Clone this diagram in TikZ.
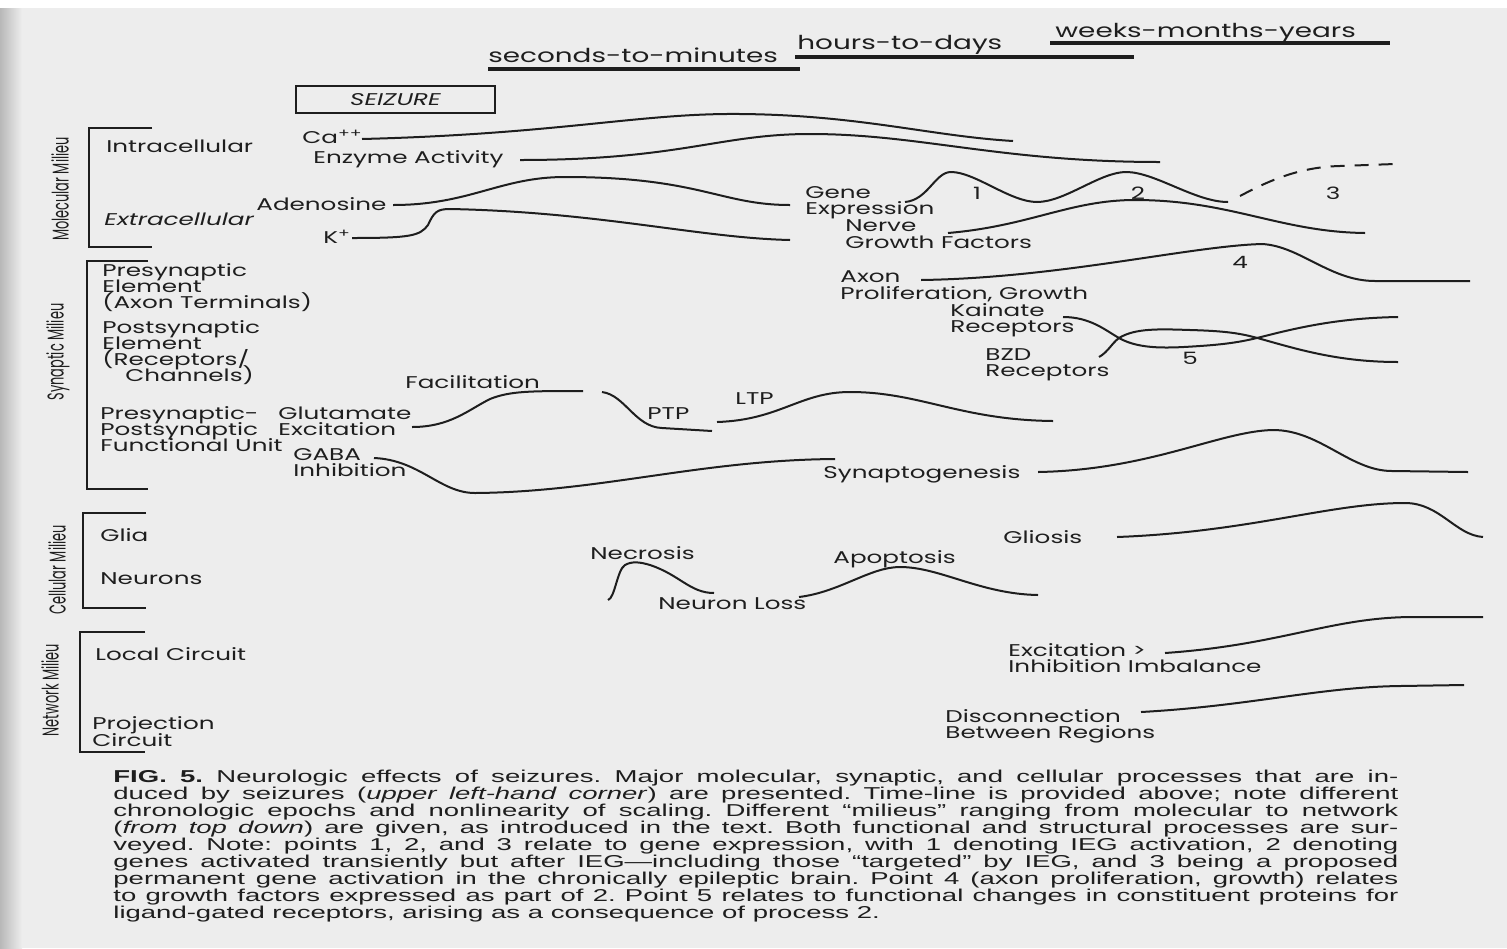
\documentclass[tikz,border=0pt]{standalone}
\usepackage{fontspec}
\usepackage{graphicx}
\newfontfamily\figfont[FakeStretch=1.45]{Poppins}
\newfontfamily\sidefont[FakeStretch=0.85]{Poppins}
\newfontfamily\capfont[FakeStretch=1.6]{Liberation Sans}
\definecolor{ink}{HTML}{1E1E1E}
\definecolor{paper}{HTML}{EDEDED}
\definecolor{edge}{HTML}{B8B8B8}
\begin{document}
\begin{tikzpicture}[x=0.5pt,y=-0.5pt,
  lbl/.style={font=\figfont\fontsize{8.5}{8}\selectfont, text=ink, inner sep=0pt, anchor=base west},
  num/.style={font=\figfont\fontsize{8.5}{8}\selectfont, text=ink, inner sep=0pt, anchor=center},
  tline/.style={font=\figfont\fontsize{9.6}{10}\selectfont, text=ink, inner sep=0pt, anchor=base west},
  side/.style={font=\sidefont\fontsize{7.6}{8}\selectfont, text=ink, inner sep=0pt, rotate=90, anchor=center},
  capline/.style={font=\capfont\fontsize{8.6}{8.5}\selectfont\frenchspacing, text=ink, inner sep=0pt, anchor=base west},
  curve/.style={draw=ink, line width=1pt},
  bracket/.style={draw=ink, line width=1pt},
  rule/.style={draw=ink, line width=1.6pt}]

% page
\fill[paper] (0,0) rectangle (1507,948);
\shade[left color=edge, right color=paper] (0,8) rectangle (22,948);
\fill[white] (0,0) rectangle (1507,8);
\useasboundingbox (0,0) rectangle (1507,948);

% ---------- time line ----------
\node[tline] (tsec) at (488,62) {seconds-to-minutes};
\draw[rule] (488,69) -- (800,69);
\node[tline] (thrs) at (797,49) {hours-to-days};
\draw[rule] (795,57) -- (1134,57);
\node[tline] (twks) at (1055,37) {weeks-months-years};
\draw[rule] (1050,43) -- (1390,43);

% ---------- seizure box ----------
\node[draw=ink, line width=1.3pt, minimum width=99.5pt, minimum height=13.5pt, inner sep=0pt,
      font=\figfont\itshape\fontsize{8.5}{8}\selectfont, text=ink] (seizure) at (395.5,99.5) {SEIZURE};

% ---------- milieu brackets ----------
\draw[bracket] (152,128) -- (89,128) -- (89,247) -- (152,247);
\draw[bracket] (148,261) -- (87,261) -- (87,489) -- (148,489);
\draw[bracket] (146,513) -- (83,513) -- (83,608) -- (146,608);
\draw[bracket] (145,632) -- (80,632) -- (80,752) -- (145,752);
\node[side] (molmil) at (60,189) {\scalebox{1}[1.5]{Molecular Milieu}};
\node[side] (synmil) at (58,352) {\scalebox{1}[1.5]{Synaptic Milieu}};
\node[side] (celmil) at (57,570) {\scalebox{1}[1.5]{Cellular Milieu}};
\node[side] (netmil) at (50,690) {\scalebox{1}[1.5]{Network Milieu}};

% ---------- molecular milieu ----------
\node[lbl] (intra) at (106,152) {Intracellular};
\node[lbl, font=\figfont\itshape\fontsize{8.5}{8}\selectfont] (extra) at (104,225) {Extracellular};
\node[lbl] (ca) at (302,143) {Ca\textsuperscript{++}};
\node[lbl] (enz) at (313,163) {Enzyme Activity};
\node[lbl] (ade) at (256,210) {Adenosine};
\node[lbl] (kp) at (323,243) {K\textsuperscript{+}};
\node[lbl] (gene1) at (805,198) {Gene};
\node[lbl] (gene2) at (805,214) {Expression};
\node[lbl] (ngf1) at (845,231) {Nerve};
\node[lbl] (ngf2) at (845,248) {Growth Factors};
\node[lbl] (axon1) at (840,282) {Axon};
\node[lbl] (axon2) at (840,299) {Proliferation, Growth};
\node[lbl] (kai1) at (950,316) {Kainate};
\node[lbl] (kai2) at (950,332) {Receptors};
\node[lbl] (bzd1) at (985,360) {BZD};
\node[lbl] (bzd2) at (985,376) {Receptors};
\node[num] (p1) at (977,193) {1};
\node[num] (p2) at (1138,193) {2};
\node[num] (p3) at (1333,193) {3};
\node[num] (p4) at (1240,262) {4};
\node[num] (p5) at (1190,358) {5};

% Ca++
\draw[curve] (362,139) .. controls (560,134) and (640,113) .. (740,114)
                       .. controls (860,115) and (930,136) .. (1013,141);
% enzyme activity
\draw[curve] (520,160) .. controls (680,160) and (720,134) .. (810,134)
                       .. controls (920,134) and (1000,162) .. (1160,162);
% adenosine
\draw[curve] (393,205) .. controls (470,205) and (500,177) .. (565,177)
                       .. controls (700,177) and (720,205) .. (790,205);
% K+
\draw[curve] (352,238) .. controls (410,238) and (420,236) .. (428,225)
                       .. controls (434,212) and (437,209) .. (450,209)
                       .. controls (600,212) and (700,238) .. (790,240);
% gene expression, points 1 and 2
\draw[curve] (905,202) .. controls (928,200) and (935,172) .. (951,172)
                       .. controls (975,172) and (1010,202) .. (1037,202)
                       .. controls (1065,202) and (1100,172) .. (1126,172)
                       .. controls (1155,172) and (1195,202) .. (1228,202);
% gene expression, point 3
\draw[curve, dash pattern=on 7pt off 5pt] (1240,196) .. controls (1270,180) and (1300,167) .. (1340,166) -- (1395,164);
% nerve growth factors
\draw[curve] (948,233) .. controls (1030,226) and (1070,200) .. (1135,200)
                       .. controls (1230,200) and (1280,232) .. (1365,233);
% axon proliferation, point 4
\draw[curve] (921,280) .. controls (1060,278) and (1190,246) .. (1262,244)
                       .. controls (1300,246) and (1330,281) .. (1375,281) -- (1470,281);
% kainate receptors
\draw[curve] (1063,317) .. controls (1090,317) and (1105,330) .. (1119,338)
                        .. controls (1140,350) and (1170,348) .. (1200,346)
                        .. controls (1230,344) and (1245,341) .. (1261,337)
                        .. controls (1300,327) and (1340,318) .. (1398,317);
% BZD receptors
\draw[curve] (1099,357) .. controls (1108,352) and (1112,343) .. (1119,338)
                        .. controls (1135,328) and (1160,329) .. (1190,330)
                        .. controls (1225,331) and (1240,333) .. (1261,339)
                        .. controls (1300,350) and (1340,362) .. (1398,362);

% ---------- synaptic milieu ----------
\node[lbl] (pre1) at (102,276) {Presynaptic};
\node[lbl] (pre2) at (102,292) {Element};
\node[lbl] (pre3) at (102,308) {(Axon Terminals)};
\node[lbl] (post1) at (102,333) {Postsynaptic};
\node[lbl] (post2) at (102,349) {Element};
\node[lbl] (post3) at (102,365) {(Receptors/};
\node[lbl] (post4) at (125,381) {Channels)};
\node[lbl] (fu1) at (100,419) {Presynaptic-};
\node[lbl] (fu2) at (100,435) {Postsynaptic};
\node[lbl] (fu3) at (100,451) {Functional Unit};
\node[lbl] (glu1) at (278,419) {Glutamate};
\node[lbl] (glu2) at (278,435) {Excitation};
\node[lbl] (gaba1) at (293,460) {GABA};
\node[lbl] (gaba2) at (293,476) {Inhibition};
\node[lbl] (fac) at (405,388) {Facilitation};
\node[lbl] (ptp) at (647,419) {PTP};
\node[lbl] (ltp) at (735,404) {LTP};
\node[lbl] (syn) at (823,478) {Synaptogenesis};

% facilitation
\draw[curve] (412,427) .. controls (450,427) and (468,410) .. (490,399)
                       .. controls (510,391) and (530,391) .. (583,391);
% post-tetanic potentiation
\draw[curve] (602,392) .. controls (625,395) and (635,427) .. (662,428) -- (712,431);
% long-term potentiation
\draw[curve] (717,422) .. controls (780,420) and (800,392) .. (850,392)
                       .. controls (920,392) and (960,420) .. (1053,421);
% GABA inhibition
\draw[curve] (374,458) .. controls (420,460) and (440,493) .. (475,493)
                       .. controls (600,492) and (700,460) .. (835,459);
% synaptogenesis
\draw[curve] (1038,472) .. controls (1150,470) and (1220,431) .. (1273,430)
                        .. controls (1320,430) and (1350,471) .. (1392,471) -- (1468,472);

% ---------- cellular milieu ----------
\node[lbl] (glia) at (100,541) {Glia};
\node[lbl] (neur) at (100,584) {Neurons};
\node[lbl] (necr) at (590,559) {Necrosis};
\node[lbl] (nloss) at (658,609) {Neuron Loss};
\node[lbl] (apop) at (833,563) {Apoptosis};
\node[lbl] (glio) at (1003,543) {Gliosis};

% necrosis
\draw[curve] (608,600) .. controls (615,598) and (617,570) .. (625,565)
                       .. controls (632,561) and (640,562) .. (650,565)
                       .. controls (680,575) and (690,593) .. (714,593);
% apoptosis
\draw[curve] (799,597) .. controls (840,592) and (870,567) .. (900,567)
                       .. controls (940,567) and (980,594) .. (1038,595);
% gliosis
\draw[curve] (1117,537) .. controls (1250,532) and (1330,503) .. (1405,503)
                        .. controls (1440,503) and (1455,535) .. (1483,537);

% ---------- network milieu ----------
\node[lbl] (loc) at (95,660) {Local Circuit};
\node[lbl] (proj1) at (92,729) {Projection};
\node[lbl] (proj2) at (92,746) {Circuit};
\node[lbl] (exc1) at (1008,656) {Excitation >};
\node[lbl] (exc2) at (1008,672) {Inhibition Imbalance};
\node[lbl] (dis1) at (945,722) {Disconnection};
\node[lbl] (dis2) at (945,738) {Between Regions};

% excitation > inhibition imbalance
\draw[curve] (1165,653) .. controls (1280,645) and (1330,618) .. (1410,617) -- (1483,617);
% disconnection between regions
\draw[curve] (1141,712) .. controls (1250,706) and (1320,687) .. (1400,686) -- (1464,685);

% ---------- legend ----------
\node[capline] (c1) at (113,782) {\makebox[642.5pt][s]{\textbf{FIG. 5.} Neurologic effects of seizures. Major molecular, synaptic, and cellular processes that are in-}};
\node[capline] (c2) at (113,799) {\makebox[642.5pt][s]{duced by seizures (\textit{upper left-hand corner}) are presented. Time-line is provided above; note different}};
\node[capline] (c3) at (113,816) {\makebox[642.5pt][s]{chronologic epochs and nonlinearity of scaling. Different “milieus” ranging from molecular to network}};
\node[capline] (c4) at (113,833) {\makebox[642.5pt][s]{(\textit{from top down}) are given, as introduced in the text. Both functional and structural processes are sur-}};
\node[capline] (c5) at (113,850) {\makebox[642.5pt][s]{veyed. Note: points 1, 2, and 3 relate to gene expression, with 1 denoting IEG activation, 2 denoting}};
\node[capline] (c6) at (113,867) {\makebox[642.5pt][s]{genes activated transiently but after IEG—including those “targeted” by IEG, and 3 being a proposed}};
\node[capline] (c7) at (113,884) {\makebox[642.5pt][s]{permanent gene activation in the chronically epileptic brain. Point 4 (axon proliferation, growth) relates}};
\node[capline] (c8) at (113,901) {\makebox[642.5pt][s]{to growth factors expressed as part of 2. Point 5 relates to functional changes in constituent proteins for}};
\node[capline] (c9) at (113,918) {ligand-gated receptors, arising as a consequence of process 2.};
\end{tikzpicture}
\end{document}
